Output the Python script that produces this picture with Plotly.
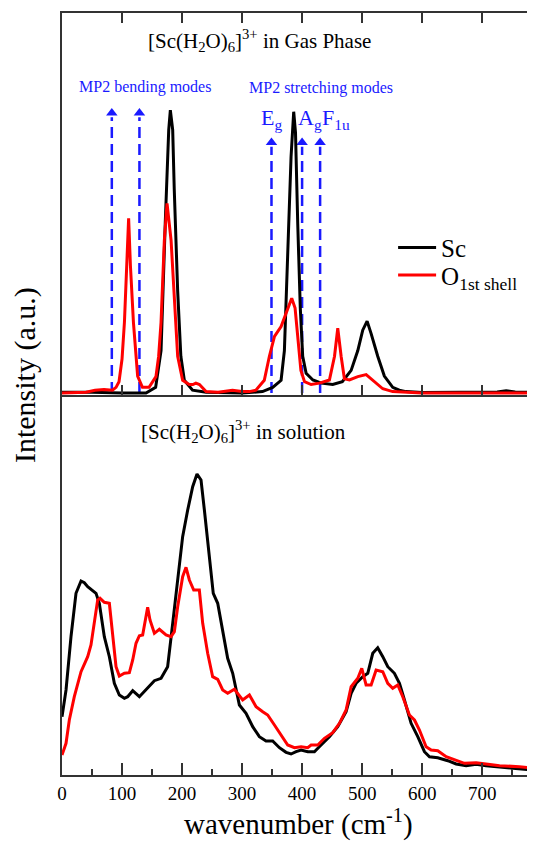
import plotly.graph_objects as go

# ---------------- data ----------------
# Top panel: [Sc(H2O)6]3+ gas phase
gas_sc_x = [0, 50, 100, 140, 156, 165, 172, 177.8, 180.5, 184.4, 187, 192.7, 198, 203.8, 217.5, 240, 300,
            334, 351, 365, 370.5, 376, 381.6, 386, 389, 392.7, 397, 401, 406.7, 418, 432, 451, 467, 481.7,
            492.8, 501, 508.3, 515, 526, 537, 545.5, 551, 562, 573, 600, 700, 725, 740, 755, 788]
gas_sc_y = [0.003, 0.003, 0.0, 0.0, 0.02, 0.15, 0.6, 0.93, 1.0, 0.93, 0.72, 0.36, 0.13, 0.045, 0.01, 0.003, 0.0,
            0.005, 0.02, 0.045, 0.15, 0.48, 0.835, 0.994, 0.92, 0.6, 0.3, 0.13, 0.07, 0.046, 0.035, 0.03, 0.04, 0.08,
            0.15, 0.222, 0.254, 0.21, 0.13, 0.06, 0.035, 0.02, 0.01, 0.005, 0.002, 0.002, 0.004, 0.008, 0.004, 0.002]

gas_o_x = [0, 40, 55, 70, 84, 90, 95, 100, 104, 108, 111, 114, 119, 126, 134, 145, 156.5, 161, 165, 170.5, 175,
           181.7, 187, 192.7, 201, 212, 218, 223, 229, 240, 260, 284, 300, 312, 323, 337, 345.5, 354, 365, 376,
           382.7, 388.3, 392.7, 398, 404, 415, 428.9, 445.5, 454, 459.4, 465, 470.5, 478.9, 492.8, 506.7, 517.8,
           534.4, 551, 600, 788]
gas_o_y = [0.0, 0.003, 0.01, 0.012, 0.01, 0.02, 0.04, 0.12, 0.25, 0.45, 0.617, 0.45, 0.25, 0.06, 0.02, 0.02, 0.058,
           0.13, 0.25, 0.54, 0.67, 0.54, 0.34, 0.13, 0.045, 0.03, 0.03, 0.035, 0.03, 0.005, 0.003, 0.01, 0.005, 0.005,
           0.01, 0.045, 0.13, 0.2, 0.235, 0.293, 0.335, 0.3, 0.19, 0.08, 0.04, 0.03, 0.035, 0.046, 0.13, 0.229, 0.13,
           0.05, 0.046, 0.058, 0.065, 0.046, 0.015, 0.005, 0.0, 0.0]

# MP2 modes (cm-1)
bend_modes = [83, 129]
stretch_modes = [349, 400, 430]
bend_tip = 0.99
stretch_tip = 0.885

# Bottom panel: in solution
sol_sc_x = [0, 6.7, 15, 23.3, 31.7, 37.2, 42.8, 48.3, 56.7, 62.2, 70.5, 78.9, 87.2, 95.5, 103.9, 109.4, 117.8,
            128.9, 140, 153.9, 165, 176, 184.4, 192.7, 201, 209.4, 217.7, 224.9, 231.6, 237.2, 245.5, 252, 259.4,
            267.7, 276, 284.4, 295.5, 306.6, 317.7, 328.8, 339.9, 351, 362.2, 373.3, 381.6, 390, 398.3, 409.4,
            420.5, 431.6, 445.5, 459.4, 473.3, 481.7, 490, 501.1, 509.4, 517.7, 526, 534.4, 542.7, 553.8, 562.2,
            570.5, 581.6, 592.7, 603.8, 612.2, 626, 642.7, 656.6, 673.3, 690, 706.6, 728.9, 751, 787]
sol_sc_y = [0.583, 0.85, 1.383, 1.817, 1.94, 1.923, 1.883, 1.857, 1.817, 1.717, 1.383, 1.183, 0.917, 0.8, 0.767,
            0.783, 0.843, 0.783, 0.857, 0.943, 0.967, 1.083, 1.517, 1.983, 2.383, 2.65, 2.883, 3.01, 2.95, 2.65,
            2.183, 1.817, 1.717, 1.45, 1.167, 1.017, 0.7, 0.617, 0.483, 0.383, 0.34, 0.34, 0.273, 0.227, 0.21,
            0.233, 0.25, 0.233, 0.233, 0.3, 0.383, 0.483, 0.633, 0.817, 0.917, 0.983, 1.017, 1.217, 1.273, 1.183,
            1.083, 1.017, 0.917, 0.75, 0.517, 0.383, 0.233, 0.183, 0.173, 0.143, 0.11, 0.093, 0.107, 0.093, 0.077,
            0.067, 0.05]

sol_o_x = [0, 6.7, 12.2, 20.5, 31.7, 42.8, 48.3, 53.9, 59.4, 63.3, 70.5, 78.9, 84.4, 90, 95.5, 103.9, 112.2,
           117.8, 123.3, 128.9, 134.4, 138.9, 142.7, 146.6, 153.9, 162.2, 173.3, 181.6, 187.2, 192.7, 201, 206.6,
           212.2, 219.4, 228.8, 234.4, 242.7, 251, 259.4, 267.7, 276, 287.2, 301, 312.2, 323.3, 334.4, 342.7,
           353.9, 365, 376, 387.2, 398.3, 409.4, 415, 426.1, 437.2, 451, 462.2, 473.3, 481.7, 492.8, 499.4, 506.6,
           515, 523.3, 534.4, 542.7, 551, 559.4, 567.7, 578.8, 587.2, 595.5, 606.6, 615, 626, 640, 653.9, 670.5,
           690, 706.6, 728.9, 762, 787]
sol_o_y = [0.2, 0.317, 0.55, 0.783, 1.033, 1.183, 1.3, 1.55, 1.75, 1.767, 1.727, 1.717, 1.383, 1.083, 0.99, 1.017,
           1.023, 1.15, 1.317, 1.393, 1.4, 1.55, 1.677, 1.55, 1.417, 1.457, 1.4, 1.383, 1.433, 1.683, 1.983, 2.077,
           1.95, 1.85, 1.85, 1.517, 1.217, 0.983, 0.957, 0.85, 0.817, 0.857, 0.75, 0.8, 0.683, 0.633, 0.6, 0.5, 0.4,
           0.3, 0.273, 0.283, 0.273, 0.3, 0.3, 0.367, 0.423, 0.517, 0.65, 0.883, 0.967, 1.067, 0.9, 0.9, 1.05, 1.033,
           0.917, 0.867, 0.9, 0.783, 0.6, 0.55, 0.45, 0.283, 0.25, 0.243, 0.183, 0.15, 0.117, 0.123, 0.107, 0.093,
           0.083, 0.067]

x_ticks = [0, 100, 200, 300, 400, 500, 600, 700]

# ---------------- figure ----------------
FONT = "Liberation Serif"
AX = "#333333"
BLUE = "#1a1aff"
fig = go.Figure()

# dashed MP2 mode lines with arrow heads
def vlines(xs, top):
    xx, yy = [], []
    for m in xs:
        xx += [m, m, None]
        yy += [0, top - 0.015, None]
    return xx, yy

for modes, tip in [(bend_modes, bend_tip), (stretch_modes, stretch_tip)]:
    lx, ly = vlines(modes, tip)
    fig.add_trace(go.Scatter(x=lx, y=ly, mode="lines", xaxis="x2", yaxis="y2", showlegend=False,
                             line=dict(color=BLUE, width=2.5, dash="11px,6px"), hoverinfo="skip"))
    fig.add_trace(go.Scatter(x=modes, y=[tip] * len(modes), mode="markers", xaxis="x2", yaxis="y2",
                             showlegend=False, marker=dict(symbol="triangle-up", size=10, color=BLUE),
                             hoverinfo="skip"))

fig.add_trace(go.Scatter(x=gas_sc_x, y=gas_sc_y, mode="lines", xaxis="x2", yaxis="y2", name="Sc",
                         legend="legend", line=dict(color="black", width=3)))
fig.add_trace(go.Scatter(x=gas_o_x, y=gas_o_y, mode="lines", xaxis="x2", yaxis="y2",
                         name="O<sub>1st shell</sub>", legend="legend2", line=dict(color="#ff0000", width=3)))
fig.add_trace(go.Scatter(x=sol_sc_x, y=sol_sc_y, mode="lines", xaxis="x", yaxis="y", showlegend=False,
                         line=dict(color="black", width=3)))
fig.add_trace(go.Scatter(x=sol_o_x, y=sol_o_y, mode="lines", xaxis="x", yaxis="y", showlegend=False,
                         line=dict(color="#ff0000", width=3)))

split = 380 / 762
leg_common = dict(xanchor="left", yanchor="top", bgcolor="rgba(0,0,0,0)", itemwidth=38,
                  font=dict(family=FONT, size=25, color="black"))
# page body adds an 8px offset; figure sized so the plot area sits at x 62.., y 13..775 of the window
fig.update_layout(
    width=527, height=837,
    margin=dict(l=54, r=0, t=5, b=70),
    paper_bgcolor="white", plot_bgcolor="white",
    font=dict(family=FONT, color="black"),
    xaxis=dict(domain=[0, 1], range=[0, 788], anchor="y", tickmode="array", tickvals=x_ticks,
               ticks="inside", ticklen=12, tickcolor=AX, tickwidth=1.5,
               minor=dict(dtick=50, tick0=0, ticks="inside", ticklen=6, tickcolor=AX, tickwidth=1.5),
               showline=True, linecolor=AX, linewidth=1.5, showgrid=False, zeroline=False,
               tickfont=dict(family=FONT, size=19, color="black")),
    yaxis=dict(domain=[0, split], range=[0, 3.8], showline=True, linecolor=AX, linewidth=1.5,
               showticklabels=False, ticks="", showgrid=False, zeroline=False),
    xaxis2=dict(domain=[0, 1], range=[0, 788], anchor="y2", matches="x", tickmode="array", tickvals=x_ticks,
                ticks="inside", ticklen=10, tickcolor=AX, tickwidth=1.5, mirror="ticks",
                showline=True, linecolor=AX, linewidth=1.5, showgrid=False, zeroline=False,
                showticklabels=False),
    yaxis2=dict(domain=[split, 1], range=[-0.007, 1.343], showline=True, linecolor=AX, linewidth=1.5,
                showticklabels=False, ticks="", showgrid=False, zeroline=False),
    legend=dict(x=0.70, y=0.722, **leg_common),
    legend2=dict(x=0.70, y=0.686, **leg_common),
    showlegend=True,
)

ann = [
    dict(x=329, y=1.245, xref="x2", yref="y2",
         text="[Sc(H<sub>2</sub>O)<sub>6</sub>]<sup>3+</sup> in Gas Phase", font=dict(size=21)),
    dict(x=302, y=3.43, xref="x", yref="y",
         text="[Sc(H<sub>2</sub>O)<sub>6</sub>]<sup>3+</sup> in solution", font=dict(size=21)),
    dict(x=139, y=1.081, xref="x2", yref="y2", text="MP2 bending modes", font=dict(size=16, color=BLUE)),
    dict(x=431, y=1.077, xref="x2", yref="y2", text="MP2 stretching modes", font=dict(size=16, color=BLUE)),
    dict(x=349, y=0.97, xref="x2", yref="y2", text="E<sub>g</sub>", font=dict(size=22, color=BLUE)),
    dict(x=413, y=0.97, xref="x2", yref="y2", text="A<sub>g</sub>", font=dict(size=22, color=BLUE)),
    dict(x=457, y=0.97, xref="x2", yref="y2", text="F<sub>1u</sub>", font=dict(size=22, color=BLUE)),
    dict(x=-0.078, y=0.525, xref="paper", yref="paper", text="Intensity (a.u.)", textangle=-90,
         font=dict(size=30)),
    dict(x=0.5, y=-0.062, xref="paper", yref="paper", text="wavenumber (cm<sup>-1</sup>)",
         font=dict(size=29)),
]
for a in ann:
    a.setdefault("showarrow", False)
    a.setdefault("xanchor", "center")
    a.setdefault("yanchor", "middle")
    a["font"].setdefault("family", FONT)
    a["font"].setdefault("color", "black")
    fig.add_annotation(**a)

fig.write_html("out.html")
